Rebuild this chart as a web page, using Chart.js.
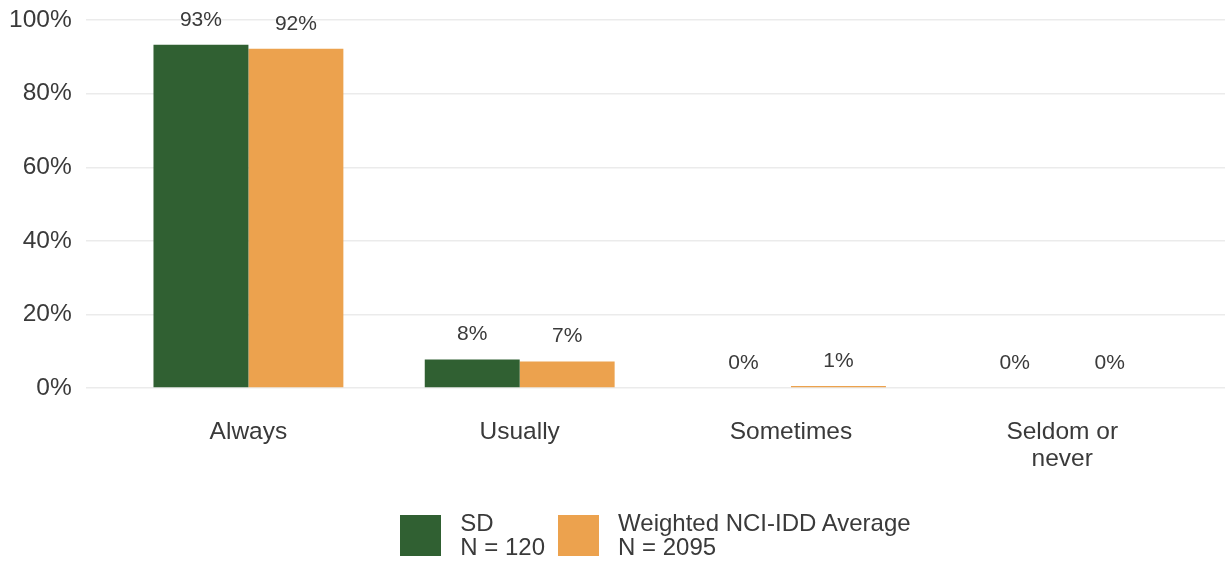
<!DOCTYPE html>
<html>
<head>
<meta charset="utf-8">
<script src="https://cdn.jsdelivr.net/npm/chart.js@4"></script>
<style>
  html, body { margin: 0; padding: 0; background: #ffffff; overflow: hidden; }
  #wrap { position: relative; width: 1225px; height: 563px; }
  #legend { position: absolute; top: 511px; display: flex; align-items: center;
            font-family: "Liberation Sans", Arial, sans-serif; font-size: 24px; line-height: 24px; color: #3a3a3a; }
  .item { display: flex; align-items: center; margin-right: 13px; }
  .item:last-child { margin-right: 0; }
  .box { width: 41px; height: 41px; margin-right: 19px; }
</style>
</head>
<body>
<div id="wrap"><canvas id="c" width="1225" height="563"></canvas><div id="legend"></div></div>
<script>
const categories = [['Always'], ['Usually'], ['Sometimes'], ['Seldom or', 'never']];
const sdLabel = ['SD', 'N = 120'];
const nciLabel = ['Weighted NCI-IDD Average', 'N = 2095'];
const sdValues = [93.3, 7.8, 0, 0];
const nciValues = [92.2, 7.2, 0.6, 0];
const yTicks = [0, 20, 40, 60, 80, 100];

const green = '#306032';
const orange = '#eca24e';
const textColor = '#3a3a3a';
const fontFamily = '"Liberation Sans", Arial, sans-serif';

const valueLabels = {
  id: 'valueLabels',
  afterDatasetsDraw(chart) {
    const ctx = chart.ctx;
    ctx.save();
    ctx.font = '21px ' + fontFamily;
    ctx.fillStyle = textColor;
    ctx.textAlign = 'center';
    ctx.textBaseline = 'middle';
    chart.data.datasets.forEach((ds, di) => {
      const meta = chart.getDatasetMeta(di);
      meta.data.forEach((bar, i) => {
        const v = ds.data[i].y;
        ctx.fillText(Math.round(v) + '%', bar.x, bar.y - 25);
      });
    });
    ctx.restore();
  }
};

const chart = new Chart(document.getElementById('c'), {
  type: 'bar',
  data: {
    datasets: [
      { label: sdLabel, data: sdValues.map((v, i) => ({ x: i + 1, y: v })), backgroundColor: green, borderWidth: 0 },
      { label: nciLabel, data: nciValues.map((v, i) => ({ x: i + 1, y: v })), backgroundColor: orange, borderWidth: 0 }
    ]
  },
  options: {
    responsive: false,
    animation: false,
    devicePixelRatio: 1,
    categoryPercentage: 0.7,
    barPercentage: 1.0,
    layout: { padding: { top: 16, left: -5, right: 0, bottom: 59 } },
    plugins: {
      tooltip: { enabled: false },
      legend: { display: false }
    },
    scales: {
      x: {
        type: 'linear',
        min: 0.4,
        max: 4.6,
        offset: false,
        grid: { display: false, drawTicks: false },
        border: { display: false },
        afterBuildTicks: (scale) => { scale.ticks = categories.map((_, i) => ({ value: i + 1 })); },
        ticks: {
          autoSkip: false,
          maxRotation: 0,
          padding: 31,
          color: textColor,
          font: { family: fontFamily, size: 24.5, lineHeight: 1.1 },
          callback: (v) => categories[Math.round(v) - 1] || ''
        }
      },
      y: {
        min: 0,
        max: 100,
        grid: { color: '#ebebeb', lineWidth: 1.5, drawTicks: false },
        border: { display: false },
        afterBuildTicks: (scale) => { scale.ticks = yTicks.map(v => ({ value: v })); },
        ticks: {
          padding: 14,
          color: textColor,
          font: { family: fontFamily, size: 24.5, lineHeight: 0.5 },
          callback: (v) => v + '%'
        }
      }
    }
  },
  plugins: [valueLabels]
});

// HTML legend built from the datasets
const legendEl = document.getElementById('legend');
chart.data.datasets.forEach(ds => {
  const item = document.createElement('div');
  item.className = 'item';
  const box = document.createElement('div');
  box.className = 'box';
  box.style.background = ds.backgroundColor;
  const txt = document.createElement('div');
  txt.innerHTML = ds.label.join('<br>');
  item.appendChild(box);
  item.appendChild(txt);
  legendEl.appendChild(item);
});
const ca = chart.chartArea;
const center = (ca.left + ca.right) / 2;
legendEl.style.left = (center - legendEl.offsetWidth / 2) + 'px';
</script>
</body>
</html>
